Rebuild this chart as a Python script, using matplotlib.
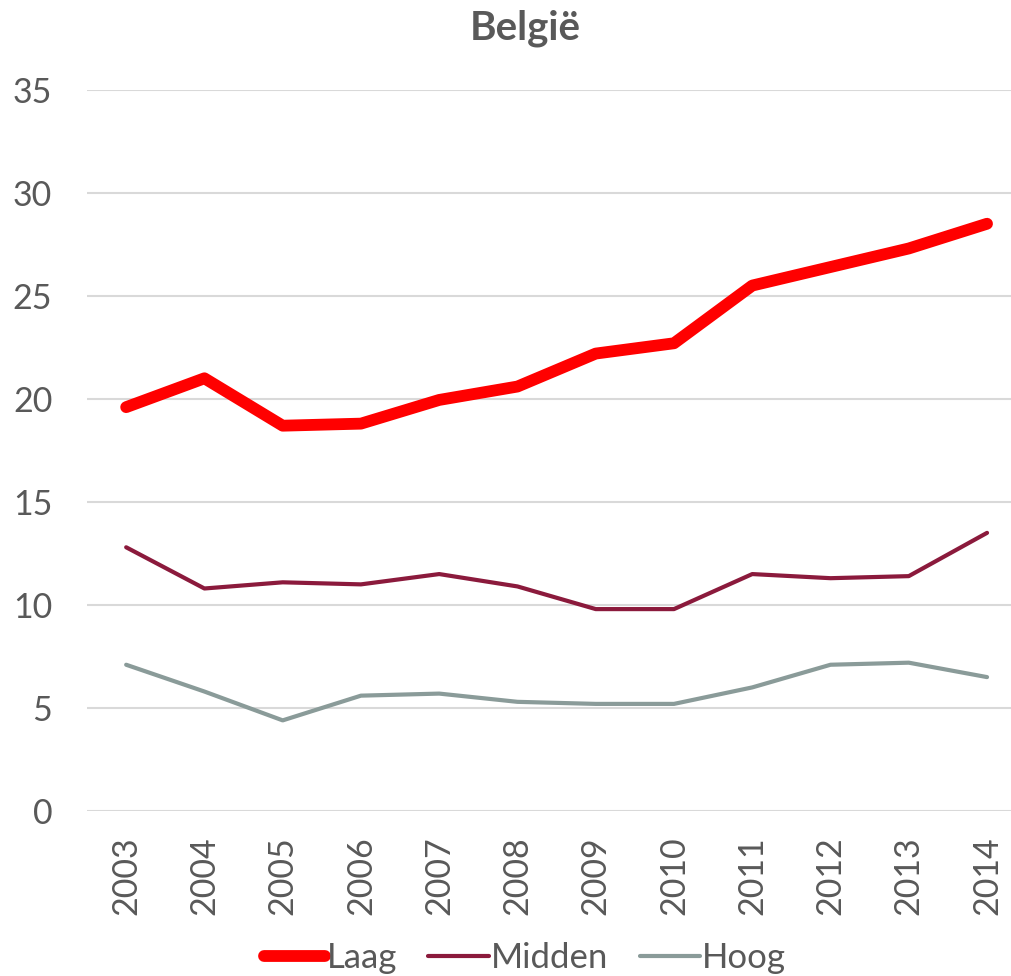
import matplotlib
matplotlib.use("Agg")
import matplotlib.pyplot as plt

years = [2003, 2004, 2005, 2006, 2007, 2008, 2009, 2010, 2011, 2012, 2013, 2014]
laag = [19.6, 21.0, 18.7, 18.8, 19.95, 20.6, 22.2, 22.7, 25.5, 26.4, 27.3, 28.5]
midden = [12.8, 10.8, 11.1, 11.0, 11.5, 10.9, 9.8, 9.8, 11.5, 11.3, 11.4, 13.5]
hoog = [7.1, 5.8, 4.4, 5.6, 5.7, 5.3, 5.2, 5.2, 6.0, 7.1, 7.2, 6.5]

TXT = '#595959'
plt.rcParams['font.family'] = ['Lato', 'DejaVu Sans']

fig = plt.figure(figsize=(10.12, 9.76), dpi=100)
ax = fig.add_axes([0.086, 0.169, 0.928, 0.739])

x = list(range(len(years)))
ax.plot(x, laag, color='#FF0000', lw=8.5, solid_capstyle='round', solid_joinstyle='round', label='Laag', zorder=3)
ax.plot(x, midden, color='#8B1A3C', lw=3, solid_capstyle='round', label='Midden', zorder=3)
ax.plot(x, hoog, color='#8A9B99', lw=3, solid_capstyle='round', label='Hoog', zorder=3)

ax.set_xlim(-0.5, len(years) - 0.5)
ax.set_ylim(0, 35)
ax.set_yticks(range(0, 36, 5))
ax.set_xticks(x)
ax.set_xticklabels([str(y) for y in years], rotation=90)
ax.grid(axis='y', color='#D9D9D9', lw=1.5)
ax.set_axisbelow(True)
for s in ax.spines.values():
    s.set_visible(False)
ax.tick_params(length=0, labelsize=24.5, colors=TXT)
ax.tick_params(axis='y', pad=25)
ax.tick_params(axis='x', pad=18)

fig.text(0.519, 0.971, 'België', ha='center', va='center', fontsize=29, fontweight='bold', color=TXT)

leg = fig.legend(loc='center', bbox_to_anchor=(0.519, 0.018), ncol=3, frameon=False,
                 fontsize=25, handlelength=1.75, handletextpad=0.05, columnspacing=0.9)
for t in leg.get_texts():
    t.set_color(TXT)

fig.savefig('out.png', dpi=100)
